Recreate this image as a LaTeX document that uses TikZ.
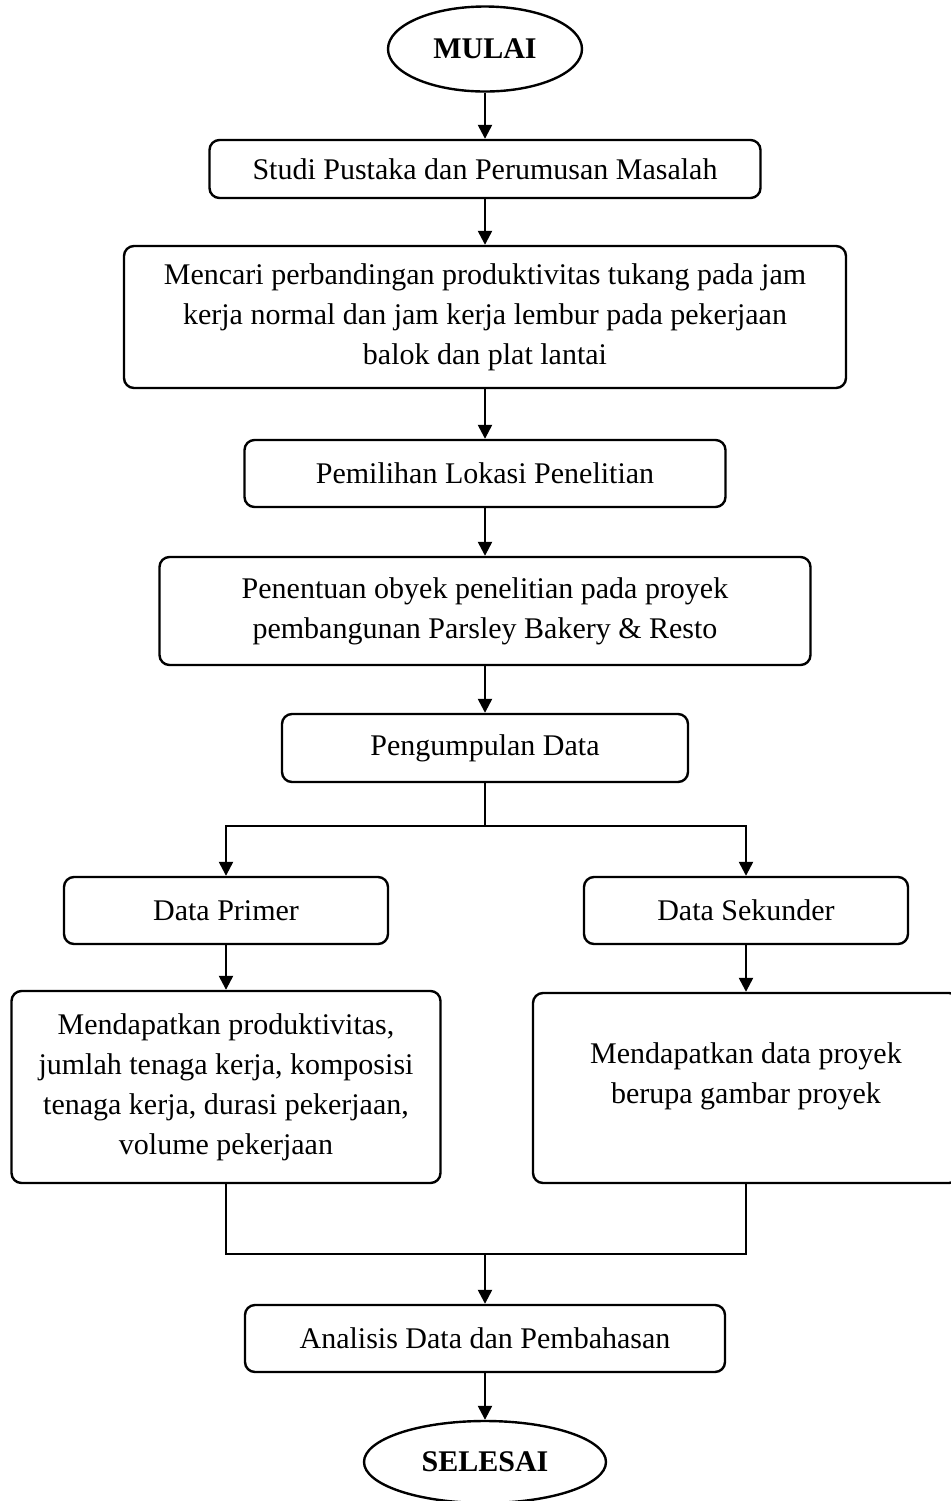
\documentclass[tikz,border=0pt]{standalone}
\usepackage{fontspec}
\setmainfont{Liberation Serif}
\usetikzlibrary{shapes.geometric,arrows.meta}

\tikzset{
	proses/.style={draw, rounded corners=5pt, align=center, inner sep=0pt},
	terminal/.style={draw, ellipse, inner sep=0pt, font=\fontsize{15}{20}\selectfont\bfseries},
	panah/.style={-{Triangle[length=7pt,width=7pt]}}
}

\begin{document}
\begin{tikzpicture}[x=0.5pt, y=-0.5pt, line width=1.2pt, font=\fontsize{15}{20}\selectfont]
		\clip (0,0) rectangle (951,1501);
		\node[terminal, minimum width=97pt, minimum height=42.5pt] (mulai) at (485, 49) {MULAI};
		\node[proses, minimum width=275.5pt, minimum height=29pt] (studi) at (485, 169) {Studi Pustaka dan Perumusan Masalah};
		\node[proses, minimum width=361pt, minimum height=71pt] (mencari) at (485, 317) {Mencari perbandingan produktivitas tukang pada jam\\kerja normal dan jam kerja lembur pada pekerjaan\\balok dan plat lantai};
		\node[proses, minimum width=240.5pt, minimum height=33.5pt] (lokasi) at (485, 473.5) {Pemilihan Lokasi Penelitian};
		\node[proses, minimum width=325.5pt, minimum height=54pt] (obyek) at (485, 611) {Penentuan obyek penelitian pada proyek\\pembangunan Parsley Bakery \& Resto};
		\node[proses, minimum width=203pt, minimum height=34pt] (kumpul) at (485, 748) {Pengumpulan Data};
		\node[proses, minimum width=162pt, minimum height=33.5pt] (primer) at (226, 910.5) {Data Primer};
		\node[proses, minimum width=162pt, minimum height=33.5pt] (sekunder) at (746, 910.5) {Data Sekunder};
		\node[proses, minimum width=214.5pt, minimum height=96pt] (dptprimer) at (226, 1087) {Mendapatkan produktivitas,\\jumlah tenaga kerja, komposisi\\tenaga kerja, durasi pekerjaan,\\volume pekerjaan};
		\node[proses, minimum width=213pt, minimum height=95pt] (dptsekunder) at (746, 1088) {Mendapatkan data proyek\\berupa gambar proyek\\[-5pt]\mbox{}};
		\node[proses, minimum width=240pt, minimum height=33.5pt] (analisis) at (485, 1338.5) {Analisis Data dan Pembahasan};
		\node[terminal, minimum width=121pt, minimum height=41pt] (selesai) at (485, 1462) {SELESAI};

		\coordinate (cabang) at (485, 826);
		\coordinate (gabung) at (485, 1254);

		\path (mulai) edge[panah] (studi)
		(studi) edge[panah] (mencari)
		(mencari) edge[panah] (lokasi)
		(lokasi) edge[panah] (obyek)
		(obyek) edge[panah] (kumpul)
		(primer) edge[panah] (dptprimer)
		(sekunder) edge[panah] (dptsekunder)
		(gabung) edge[panah] (analisis)
		(analisis) edge[panah] (selesai);

		\draw (kumpul) -- (cabang);
		\draw[panah] (cabang) -| (primer);
		\draw[panah] (cabang) -| (sekunder);
		\draw (dptprimer.south) |- (gabung) -| (dptsekunder.south);
	\end{tikzpicture}
\end{document}
